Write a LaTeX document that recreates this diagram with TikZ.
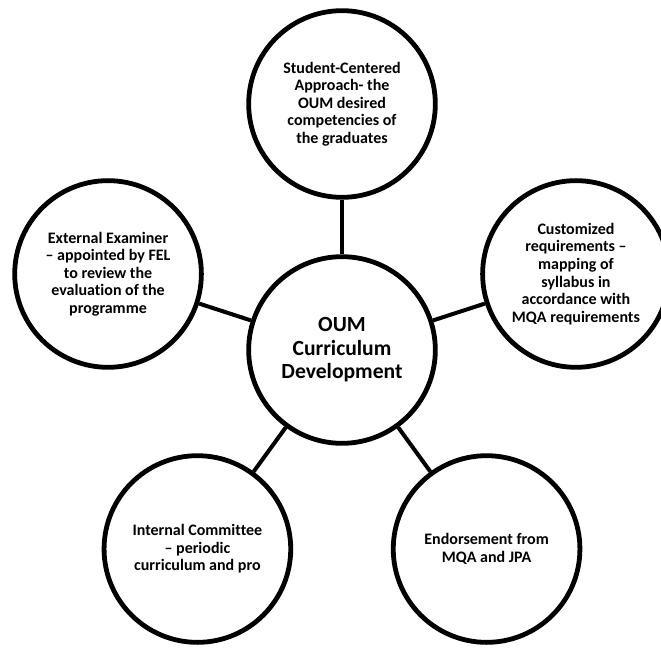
\documentclass[tikz,border=0pt]{standalone}
\usepackage{fontspec}
\setmainfont{Carlito}[Ligatures=NoCommon]

\begin{document}
\begin{tikzpicture}[x=0.75pt, y=0.75pt,
    bubble/.style={circle, draw, line width=3.6pt, minimum size=140pt, inner sep=0pt,
      align=center, font=\bfseries\fontsize{12}{13.2}\selectfont},
    link/.style={line width=3pt}]
      % Page frame
      \clip (-342,-297) rectangle (319,350);

      % Central bubble
      \node[bubble, font=\bfseries\fontsize{16.2}{17.6}\selectfont] (oum) at (0,0)
        {OUM\\Curriculum\\Development};

      % Outer bubbles
      \node[bubble] (student) at (90:246)
        {Student-Centered\\Approach- the\\OUM desired\\competencies of\\the graduates};
      \node[bubble] (custom) at (18:246)
        {Customized\\requirements –\\mapping of\\syllabus in\\accordance with\\MQA requirements};
      \node[bubble] (endorse) at (-54:246)
        {Endorsement from\\MQA and JPA};
      \node[bubble] (internal) at (234:246)
        {Internal Committee\\– periodic\\curriculum and pro};
      \node[bubble] (examiner) at (162:246)
        {External Examiner\\– appointed by FEL\\to review the\\evaluation of the\\programme};

      % Spokes
      \foreach \outer in {student, custom, endorse, internal, examiner} {
        \draw[link] (oum) -- (\outer);
      }
\end{tikzpicture}
\end{document}
